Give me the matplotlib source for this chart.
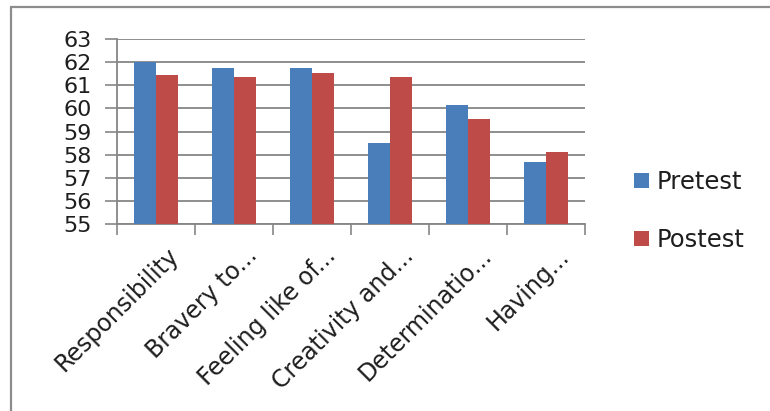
import matplotlib
matplotlib.use("Agg")
import matplotlib.pyplot as plt
import numpy as np
from matplotlib.patches import Rectangle

categories = ["Responsibility", "Bravery to...", "Feeling like of...",
              "Creativity and...", "Determinatio...", "Having..."]
pretest = [62.0, 61.75, 61.75, 58.5, 60.15, 57.7]
postest = [61.45, 61.35, 61.55, 61.35, 59.55, 58.1]
y_ticks = [55, 56, 57, 58, 59, 60, 61, 62, 63]

BLUE = "#4A7EBB"
RED = "#BE4B48"
GRID = "#868686"
TEXT = "#1E1E1E"

plt.rcParams["font.family"] = ["DejaVu Sans"]

W, H = 770, 411
fig = plt.figure(figsize=(W / 100, H / 100), dpi=100)
fig.patch.set_facecolor("white")

# chart-area border (only top/left edges fall inside the canvas)
fig.patches.append(Rectangle((11 / W, -0.1), 1.2, 1 - 7 / H + 0.1,
                             transform=fig.transFigure, fill=False,
                             edgecolor="#8C8C8C", linewidth=1.6))

x0, x1 = 117, 585
y0, y1 = 224, 39
ax = fig.add_axes([x0 / W, 1 - y0 / H, (x1 - x0) / W, (y0 - y1) / H])

x = np.arange(len(categories))
bw = 0.276
ax.bar(x - bw / 2, [v - 55 for v in pretest], bw, bottom=55, color=BLUE,
       label="Pretest", zorder=3)
ax.bar(x + bw / 2, [v - 55 for v in postest], bw, bottom=55, color=RED,
       label="Postest", zorder=3)

ax.set_xlim(-0.5, len(categories) - 0.5)
ax.set_ylim(55, 63)
ax.set_yticks(y_ticks)
ax.set_yticklabels([str(t) for t in y_ticks], fontsize=16, color=TEXT)
ax.yaxis.grid(True, color=GRID, linewidth=1.3, zorder=0)

# category ticks sit on the boundaries between groups
ax.set_xticks(np.arange(-0.5, len(categories) + 0.5, 1.0))
ax.set_xticklabels([])
ax.tick_params(axis="x", which="major", length=8, width=1.2, color=GRID)
ax.tick_params(axis="y", length=9, width=1.2, color=GRID, pad=9)

# slanted category names, anchored just below-right of each group centre
for i, name in enumerate(categories):
    ax.annotate(name, xy=(i, 0), xycoords=ax.get_xaxis_transform(),
                xytext=(8, -14), textcoords="offset points",
                rotation=45, ha="right", va="top", rotation_mode="anchor",
                fontsize=17, color=TEXT)

for s in ["top", "right"]:
    ax.spines[s].set_visible(False)
for s in ["left", "bottom"]:
    ax.spines[s].set_color(GRID)
    ax.spines[s].set_linewidth(1.3)

leg = ax.legend(loc="center left", bbox_to_anchor=(634 / W, 1 - 211 / H),
                bbox_transform=fig.transFigure, frameon=False,
                fontsize=17.5, handlelength=0.6, handleheight=0.6,
                handletextpad=0.35, labelspacing=1.4, borderpad=0,
                borderaxespad=0)
for t in leg.get_texts():
    t.set_color(TEXT)

fig.savefig("out.png", dpi=100)
